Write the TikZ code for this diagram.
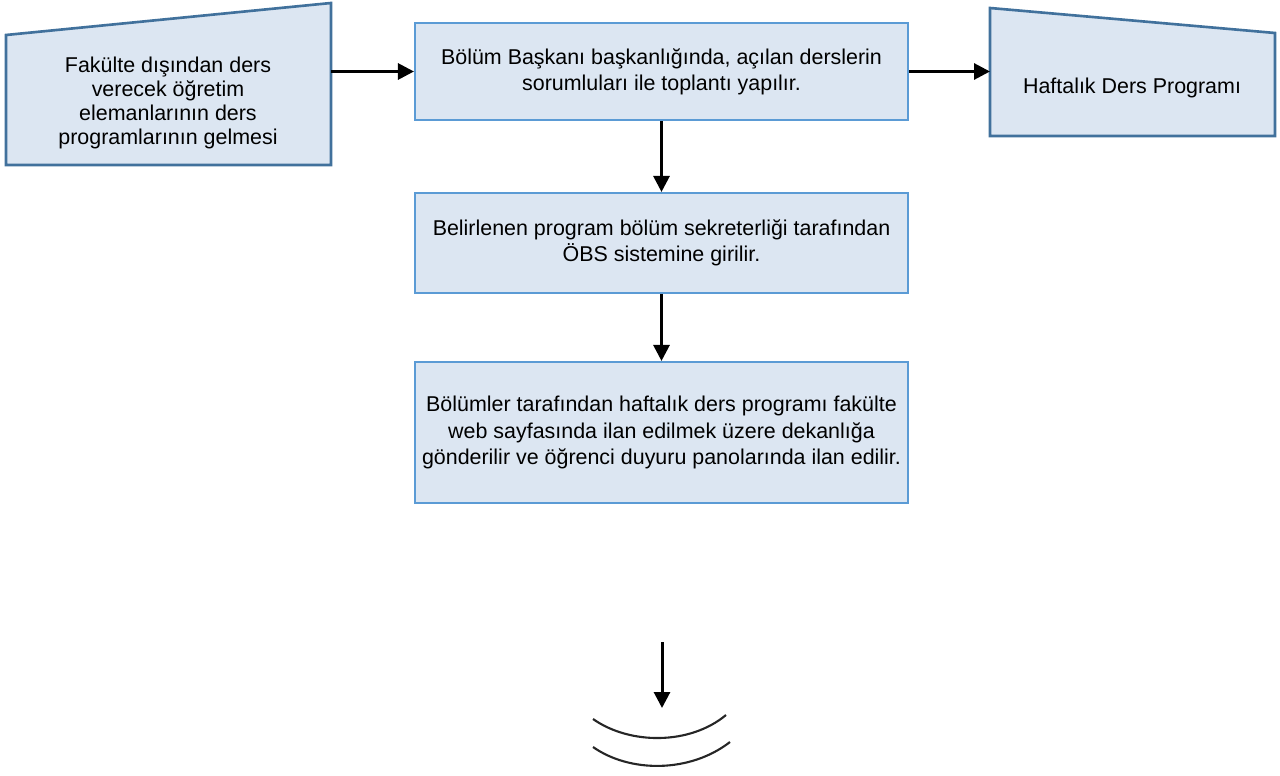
\documentclass[tikz,border=0pt]{standalone}
\usepackage{fontspec}
\setmainfont{Liberation Sans}
\usetikzlibrary{arrows.meta,positioning,calc}
\definecolor{boxfill}{RGB}{220,230,242}
\definecolor{boxline}{RGB}{91,155,213}
\definecolor{trapline}{RGB}{65,113,156}

\tikzset{
    stepbox/.style={fill=boxfill, draw=boxline, line width=1.2pt, align=center, inner sep=0pt,
        minimum width=493*0.02cm, font=\fontsize{12.2}{14.9}\selectfont},
    trapshape/.style={fill=boxfill, draw=trapline, line width=1.5pt},
    traptext/.style={align=center, inner sep=0pt, font=\fontsize{12.2}{13.6}\selectfont},
    arr/.style={line width=1.7pt, -{Triangle[length=3.2mm,width=3.2mm]}}
}

\begin{document}
\begin{tikzpicture}[x=0.02cm, y=-0.02cm]
    \useasboundingbox (0,0) rectangle (1280,776);

    % Input (left trapezoid)
    \filldraw[trapshape] (6,165) -- (6,35) -- (331,3) -- (331,165) -- cycle;
    \node[traptext] (src) at (168,103) {Fakülte dışından ders\\verecek öğretim\\elemanlarının ders\\programlarının gelmesi};
    \coordinate (srcedge) at (331,99);

    % Process steps
    \node[stepbox, minimum height=97*0.02cm] (meet) at (661.5,71.5) {Bölüm Başkanı başkanlığında, açılan derslerin\\sorumluları ile toplantı yapılır.};
    \node[stepbox, minimum height=100*0.02cm] (obs) at (661.5,243) {Belirlenen program bölüm sekreterliği tarafından\\ÖBS sistemine girilir.};
    \node[stepbox, minimum height=141*0.02cm] (post) at (661.5,432.5) {Bölümler tarafından haftalık ders programı fakülte\\web sayfasında ilan edilmek üzere dekanlığa\\gönderilir ve öğrenci duyuru panolarında ilan edilir.};

    % Output (right trapezoid)
    \filldraw[trapshape] (990,136) -- (990,8) -- (1275,33) -- (1275,136) -- cycle;
    \node[traptext] (prog) at (1132,88) {Haftalık Ders Programı};
    \coordinate (progedge) at (990,75);

    % Arrows
    \draw[arr] (srcedge |- meet.west) -- (meet.west);
    \draw[arr] (meet.east) -- (progedge |- meet.east);
    \draw[arr] (meet.south) -- (obs.north);
    \draw[arr] (obs.south) -- (post.north);

    % Continuation mark
    \coordinate (contin) at (662,642);
    \coordinate (contout) at (662,708);
    \draw[arr] (contin) -- (contout);
    \draw[line width=1.2pt, black!85] (593,719) .. controls (630,745) and (690,745) .. (726,715);
    \draw[line width=1.2pt, black!85] (593,747) .. controls (630,773) and (690,773) .. (730,742);
\end{tikzpicture}
\end{document}
